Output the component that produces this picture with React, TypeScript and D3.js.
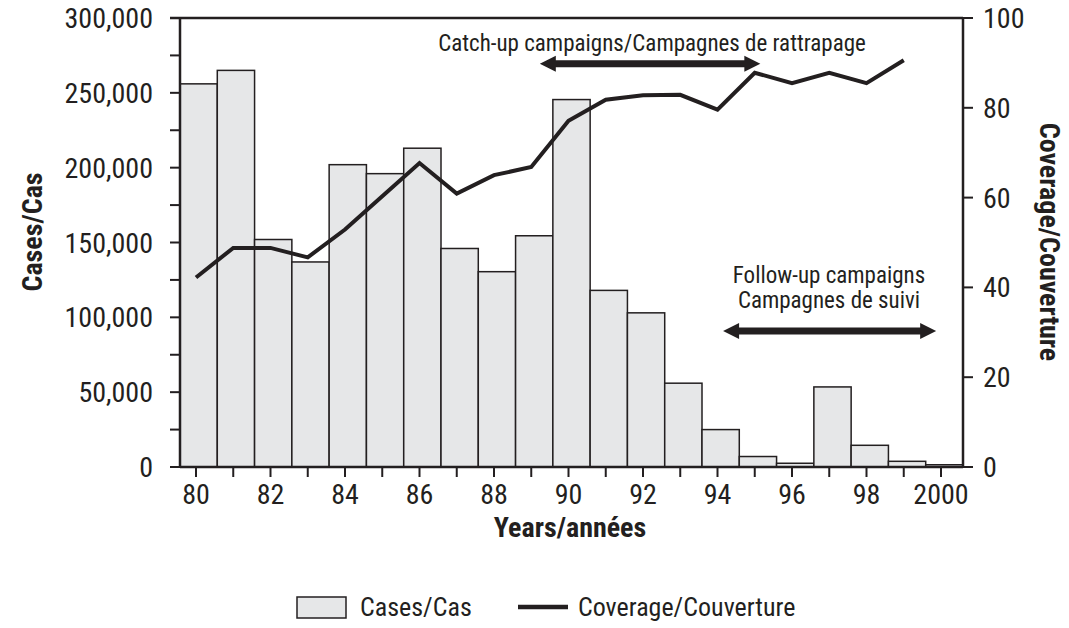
import React from "react";
import * as d3 from "d3";

// years 1980-2000, one bar each
const years = [1980, 1981, 1982, 1983, 1984, 1985, 1986, 1987, 1988, 1989, 1990,
  1991, 1992, 1993, 1994, 1995, 1996, 1997, 1998, 1999, 2000];
const cases = [256000, 265000, 152000, 137000, 202000, 196000, 213000, 146000, 130500, 154500,
  245500, 118000, 103000, 56000, 25000, 7000, 2500, 53500, 14500, 3800, 1500];

// coverage line stops at 1999
const coverageYears = [1980, 1981, 1982, 1983, 1984, 1985, 1986, 1987, 1988, 1989,
  1990, 1991, 1992, 1993, 1994, 1995, 1996, 1997, 1998, 1999];
const coverage = [42.2, 48.8, 48.8, 46.7, 52.9, 60.3, 67.7, 60.9, 65.0, 66.8,
  77.1, 81.8, 82.8, 82.9, 79.6, 87.8, 85.5, 87.8, 85.5, 90.6];

const casesTicks = [0, 50000, 100000, 150000, 200000, 250000, 300000];
const casesMinor = [25000, 75000, 125000, 175000, 225000, 275000];
const coverageTicks = [0, 20, 40, 60, 80, 100];

// campaign spans, in years
const catchUp = [1989.23, 1995.15];
const followUp = [1994.15, 1999.87];

const W = 1069;
const H = 628;
const L = 180, R = 963, T = 18, B = 467;
const INK = "#231f20";
const FILL = "#e6e7e8";
const FONT = "'Liberation Sans Narrow', 'Arial Narrow', 'Roboto Condensed', 'DejaVu Sans Condensed', Roboto, sans-serif";

function arrow(x1: number, x2: number, y: number) {
  const h = 8, len = 16, s = 3.5;
  return `M${x1},${y} L${x1 + len},${y - h} L${x1 + len},${y - s} L${x2 - len},${y - s} L${x2 - len},${y - h}
    L${x2},${y} L${x2 - len},${y + h} L${x2 - len},${y + s} L${x1 + len},${y + s} L${x1 + len},${y + h} Z`;
}

export default function App() {
  const x = d3.scaleBand<number>().domain(years).range([L, R]).padding(0);
  const xt = d3.scaleLinear().domain([1980, 2000]).range([196, 941]);
  const yL = d3.scaleLinear().domain([0, 300000]).range([B, T]);
  const yR = d3.scaleLinear().domain([0, 100]).range([B, T]);
  const fmt = d3.format(",");

  const line = d3.line<number>()
    .x((d, i) => xt(coverageYears[i]))
    .y((d) => yR(d));

  return (
    <svg width={W} height={H} style={{ position: "absolute", left: 0, top: 0, background: "#fff" }}
      fontFamily={FONT} fill={INK}>
      {/* bars */}
      {years.map((yr, i) => (
        <rect key={yr} x={x(yr)} y={yL(cases[i])} width={x.bandwidth()} height={B - yL(cases[i])}
          fill={FILL} stroke={INK} strokeWidth={1.5} />
      ))}

      {/* frame */}
      <line x1={170} x2={R} y1={T} y2={T} stroke={INK} strokeWidth={2.5} />
      <line x1={L} x2={L} y1={T} y2={B} stroke={INK} strokeWidth={2.5} />
      <line x1={L} x2={R} y1={B} y2={B} stroke={INK} strokeWidth={2.5} />
      <line x1={R} x2={R} y1={T} y2={B} stroke={INK} strokeWidth={2.5} />

      {/* left axis */}
      {casesTicks.concat(casesMinor).map((v) => (
        <line key={v} x1={170} x2={L} y1={yL(v)} y2={yL(v)} stroke={INK} strokeWidth={2} />
      ))}
      {casesTicks.map((v) => (
        <text key={v} x={153} y={yL(v)} dy="0.36em" textAnchor="end" fontSize={28}>{fmt(v)}</text>
      ))}

      {/* right axis */}
      {coverageTicks.map((v) => (
        <g key={v}>
          <line x1={R} x2={R + 10} y1={yR(v)} y2={yR(v)} stroke={INK} strokeWidth={2} />
          <text x={983} y={yR(v)} dy="0.36em" fontSize={28}>{v}</text>
        </g>
      ))}

      {/* bottom axis */}
      {years.map((yr) => (
        <g key={yr}>
          <line x1={xt(yr)} x2={xt(yr)} y1={B} y2={B + 10} stroke={INK} strokeWidth={2} />
          {yr % 2 === 0 && (
            <text x={xt(yr)} y={504} textAnchor="middle" fontSize={28}>
              {yr === 2000 ? "2000" : String(yr).slice(2)}
            </text>
          )}
        </g>
      ))}

      {/* coverage line */}
      <path d={line(coverage) ?? ""} fill="none" stroke={INK} strokeWidth={4} strokeLinejoin="miter" />

      {/* annotations */}
      <text x={652} y={51} textAnchor="middle" fontSize={23}>Catch-up campaigns/Campagnes de rattrapage</text>
      <path d={arrow(xt(catchUp[0]), xt(catchUp[1]), yR(89.8))} fill={INK} />
      <text x={829} y={283} textAnchor="middle" fontSize={23}>Follow-up campaigns</text>
      <text x={829} y={308} textAnchor="middle" fontSize={23}>Campagnes de suivi</text>
      <path d={arrow(xt(followUp[0]), xt(followUp[1]), yR(30.3))} fill={INK} />

      {/* axis titles */}
      <text transform={`translate(42,232) rotate(-90)`} textAnchor="middle" fontSize={28} fontWeight="bold">Cases/Cas</text>
      <text transform={`translate(1040,242) rotate(90)`} textAnchor="middle" fontSize={28} fontWeight="bold">Coverage/Couverture</text>
      <text x={570} y={537} textAnchor="middle" fontSize={28} fontWeight="bold">Years/années</text>

      {/* legend */}
      <rect x={297} y={597} width={49} height={21} fill={FILL} stroke={INK} strokeWidth={1.5} />
      <text x={360} y={616} fontSize={26}>Cases/Cas</text>
      <line x1={518} x2={568} y1={607} y2={607} stroke={INK} strokeWidth={4.5} />
      <text x={578} y={616} fontSize={26}>Coverage/Couverture</text>
    </svg>
  );
}
